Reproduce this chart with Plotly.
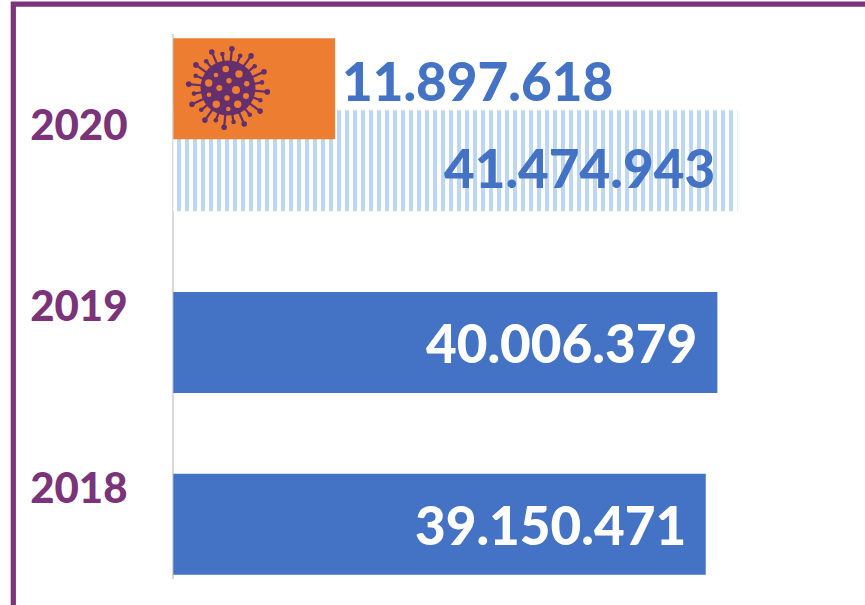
import base64
import math
import plotly.graph_objects as go

# ---- data ----
years = ["2018", "2019", "2020"]
total_values = [39150471, 40006379, 41474943]
covid_years = ["2020"]
covid_values = [11897618]


def de(v):
    return f"{v:,}".replace(",", ".")


# ---- styling ----
W, H = 865, 605
ML, MT, MB = 167, 34, 26
ZERO_PX = 173.3
SCALE = 13.6e-6
PLOT_W, PLOT_H = W - ML, H - MT - MB
PURPLE = "#7B3379"
BLUE = "#4472C4"
ORANGE = "#ED7D31"
STRIPE = "#BDD7EE"
FONT = "Lato"
WEIGHT = 900
LABEL_SIZE = 53
BAR_W = 0.556
GAP = 0.198


def px(x):
    return (x - ML) / PLOT_W


def py(y):
    return (H - MB - y) / PLOT_H


# ---- virus icon (decorative, as an SVG image) ----
VC = "#652F6E"
cx, cy = 50, 50
parts = [f'<circle cx="{cx}" cy="{cy}" r="27.5" fill="{VC}"/>']
n = 24
for i in range(n):
    a = 2 * math.pi * i / n + 0.1
    rr = 39.5 if i % 2 == 0 else 34.5
    x1, y1 = cx + 25 * math.cos(a), cy + 25 * math.sin(a)
    x2, y2 = cx + rr * math.cos(a), cy + rr * math.sin(a)
    parts.append(f'<line x1="{x1:.1f}" y1="{y1:.1f}" x2="{x2:.1f}" y2="{y2:.1f}" stroke="{VC}" stroke-width="2.2"/>')
    parts.append(f'<circle cx="{x2:.1f}" cy="{y2:.1f}" r="{2.8 if i % 2 == 0 else 2.3}" fill="{VC}"/>')
dots = [(197, 133, 10), (168, 151, 7), (237, 148, 11), (207, 168, 8), (146, 175, 11),
        (260, 177, 8), (178, 190, 9), (228, 196, 12), (147, 210, 7), (258, 214, 9),
        (201, 220, 8), (169, 239, 11), (233, 239, 11), (205, 253, 7)]
for dx, dy, r in dots:
    parts.append(f'<circle cx="{50 + (dx - 204) / 3:.1f}" cy="{50 + (dy - 190) / 3:.1f}" r="{r / 3:.1f}" fill="{ORANGE}"/>')
svg = f'<svg xmlns="http://www.w3.org/2000/svg" viewBox="0 0 100 100" width="100" height="100">{"".join(parts)}</svg>'
virus_uri = "data:image/svg+xml;base64," + base64.b64encode(svg.encode()).decode()

fig = go.Figure()
fig.add_trace(go.Bar(
    y=years[2:], x=total_values[2:], orientation="h", width=BAR_W, offset=-GAP - BAR_W / 2,
    marker=dict(color="white", line_width=0,
                pattern=dict(shape="|", size=8, solidity=0.5, fgcolor=STRIPE, bgcolor="white", fillmode="replace")),
    showlegend=False, hoverinfo="skip",
))
fig.add_trace(go.Bar(
    y=years[:2], x=total_values[:2], orientation="h", width=BAR_W, offset=-GAP - BAR_W / 2,
    marker=dict(color=BLUE, line_width=0), showlegend=False, hoverinfo="skip",
))
fig.add_trace(go.Bar(
    y=covid_years, x=covid_values, orientation="h", width=BAR_W, offset=GAP - BAR_W / 2,
    marker=dict(color=ORANGE, line_width=0), showlegend=False, hoverinfo="skip",
))

annotations = []
for idx, (yr, val) in enumerate(zip(years, total_values)):
    is_2020 = yr == "2020"
    annotations.append(dict(
        x=val, y=idx, xref="x", yref="y", text=de(val), showarrow=False,
        xanchor="right", yanchor="middle", xshift=-18 if not is_2020 else -20,
        yshift=-GAP * PLOT_H / 3 if not is_2020 else -43,
        font=dict(family=FONT, size=LABEL_SIZE, color="white" if not is_2020 else BLUE, weight=WEIGHT),
    ))
annotations.append(dict(
    x=covid_values[0], y=years.index(covid_years[0]), xref="x", yref="y", text=de(covid_values[0]), showarrow=False,
    xanchor="left", yanchor="middle", xshift=5, yshift=44,
    font=dict(family=FONT, size=LABEL_SIZE, color=BLUE, weight=WEIGHT),
))

x0 = -(ZERO_PX - ML) / SCALE
fig.update_layout(
    width=W, height=H,
    margin=dict(l=ML, r=0, t=MT, b=MB, pad=0),
    paper_bgcolor="white", plot_bgcolor="white",
    barmode="overlay",
    showlegend=False,
    xaxis=dict(range=[x0, x0 + PLOT_W / SCALE], showticklabels=False, ticks="", showgrid=False,
               showline=False, zeroline=True, zerolinecolor="#D9D9D9", zerolinewidth=2, fixedrange=True),
    yaxis=dict(type="category", categoryorder="array", categoryarray=years, range=[-0.5, 2.5],
               showline=False, showgrid=False, zeroline=False,
               ticks="outside", ticklen=30, tickcolor="rgba(0,0,0,0)", tickwidth=0,
               tickfont=dict(family=FONT, size=42, color=PURPLE, weight=WEIGHT), fixedrange=True),
    annotations=annotations,
    shapes=[dict(type="path", xref="paper", yref="paper",
                 path=f"M {px(13.3)} {py(615)} L {px(13.3)} {py(4.2)} L {px(880)} {py(4.2)}",
                 line=dict(color=PURPLE, width=5.2), layer="above")],
    images=[dict(source=virus_uri, xref="paper", yref="paper", x=px(228 - 50), y=py(88 - 50),
                 sizex=100 / PLOT_W, sizey=100 / PLOT_H, xanchor="left", yanchor="top",
                 sizing="stretch", layer="above")],
)

fig.write_html("out.html", config={"displayModeBar": False, "staticPlot": True},
               post_script="document.body.style.margin='0';document.documentElement.style.overflow='hidden';")
